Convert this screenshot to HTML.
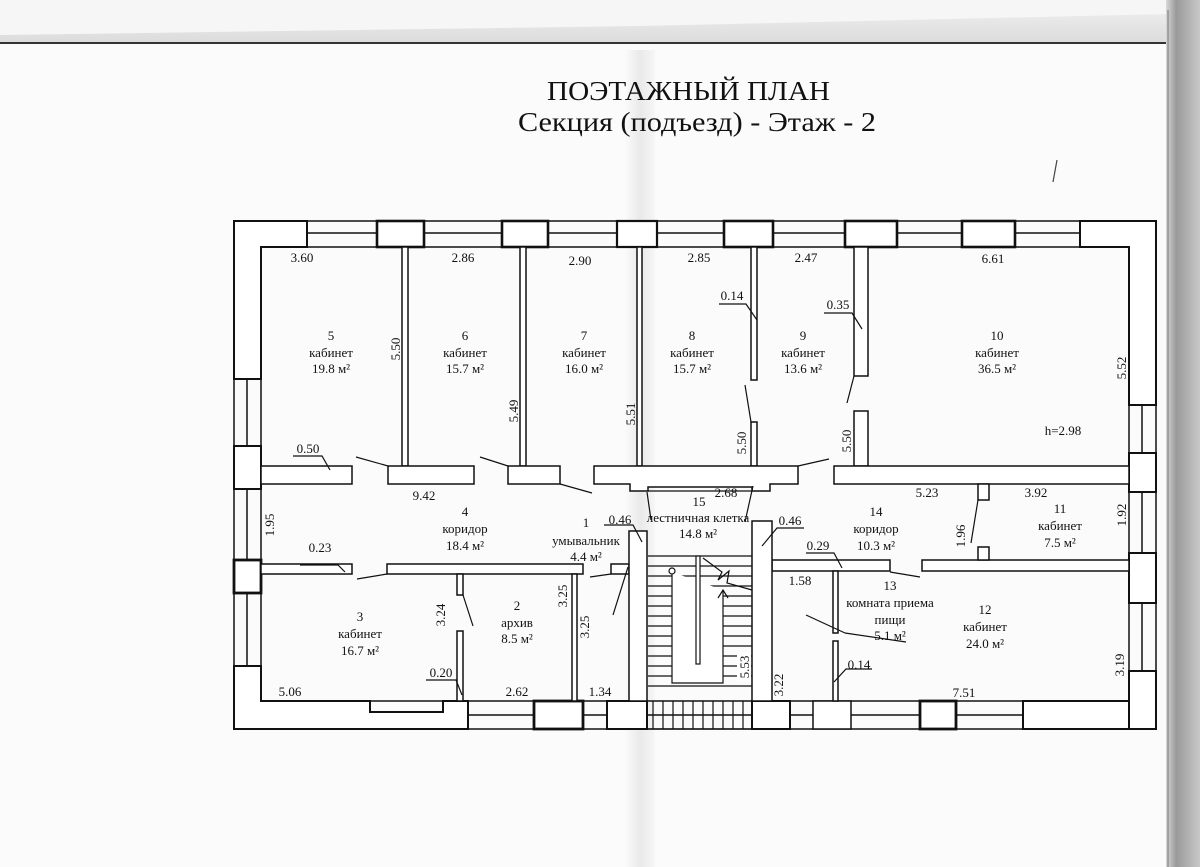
<!DOCTYPE html>
<html><head><meta charset="utf-8"><style>
html,body{margin:0;padding:0;background:#fbfbfb;}
svg{display:block;}
text{font-family:"Liberation Serif",serif;fill:#111;}
</style></head><body>
<svg width="1200" height="867" viewBox="0 0 1200 867" xmlns="http://www.w3.org/2000/svg">
<defs>
<linearGradient id="top" x1="0" y1="0" x2="0" y2="1"><stop offset="0" stop-color="#f2f2f2"/><stop offset="1" stop-color="#dcdcdc"/></linearGradient>
<linearGradient id="rt" x1="0" y1="0" x2="1" y2="0"><stop offset="0" stop-color="#d8d8d8"/><stop offset="0.3" stop-color="#9a9a9a"/><stop offset="1" stop-color="#c8c8c8"/></linearGradient>
<linearGradient id="fold" x1="0" y1="0" x2="1" y2="0"><stop offset="0" stop-color="#fbfbfb"/><stop offset="0.5" stop-color="#e9e9e9"/><stop offset="1" stop-color="#f6f6f6"/></linearGradient>
</defs>
<rect x="0" y="0" width="1200" height="867" fill="#fbfbfb"/>
<rect x="0" y="0" width="1168" height="42" fill="url(#top)"/>
<path d="M0 35 L640 26 L1168 14 L1168 0 L0 0Z" fill="#f6f6f6"/>
<line x1="0" y1="43" x2="1168" y2="43" stroke="#333" stroke-width="2"/>
<rect x="625" y="50" width="30" height="817" fill="url(#fold)"/>
<rect x="1166" y="0" width="34" height="867" fill="url(#rt)"/>
<line x1="1168" y1="10" x2="1168" y2="867" stroke="#777" stroke-width="1"/>

<text x="547" y="100" font-size="27" textLength="283" lengthAdjust="spacingAndGlyphs">ПОЭТАЖНЫЙ ПЛАН</text>
<text x="518" y="131" font-size="27" textLength="358" lengthAdjust="spacingAndGlyphs">Секция (подъезд) -   Этаж - 2</text>
<line x1="1057" y1="160" x2="1053" y2="182" stroke="#444" stroke-width="1.2"/>

<g stroke="#111" fill="none" stroke-width="1.5">
<rect x="234" y="221" width="922" height="508"/>
<rect x="261" y="247" width="868" height="454"/>
<line x1="261" y1="233" x2="1129" y2="233"/>
<line x1="247" y1="247" x2="247" y2="701"/>
<line x1="1142" y1="247" x2="1142" y2="701"/>
<line x1="468" y1="715" x2="1023" y2="715"/>
</g>
<g stroke="#111" fill="#fff" stroke-width="2">
<polygon points="234,221 307,221 307,247 261,247 261,379 234,379"/>
<rect x="377" y="221" width="47" height="26" stroke-width="2.6"/>
<rect x="502" y="221" width="46" height="26" stroke-width="2.6"/>
<rect x="617" y="221" width="40" height="26" stroke-width="2.2"/>
<rect x="724" y="221" width="49" height="26" stroke-width="2.6"/>
<rect x="845" y="221" width="52" height="26" stroke-width="2.6"/>
<rect x="962" y="221" width="53" height="26" stroke-width="2.6"/>
<polygon points="1080,221 1156,221 1156,405 1129,405 1129,247 1080,247"/>
<rect x="234" y="446" width="27" height="43"/>
<rect x="234" y="560" width="27" height="33" stroke-width="2.8"/>
<polygon points="234,666 261,666 261,701 370,701 370,712 443,712 443,701 468,701 468,729 234,729"/>
<rect x="534" y="701" width="49" height="28" stroke-width="2.8"/>
<rect x="607" y="701" width="40" height="28"/>
<rect x="752" y="701" width="38" height="28"/>
<rect x="813" y="701" width="38" height="28" stroke-width="1.5"/>
<rect x="920" y="701" width="36" height="28" stroke-width="2.8"/>
<rect x="1023" y="701" width="133" height="28"/>
<rect x="1129" y="453" width="27" height="39"/>
<rect x="1129" y="553" width="27" height="50"/>
<rect x="1129" y="671" width="27" height="58"/>
</g>
<g stroke="#111" stroke-width="1.2">
<line x1="653" y1="701" x2="653" y2="729"/><line x1="663" y1="701" x2="663" y2="729"/><line x1="673" y1="701" x2="673" y2="729"/><line x1="683" y1="701" x2="683" y2="729"/><line x1="693" y1="701" x2="693" y2="729"/><line x1="703" y1="701" x2="703" y2="729"/><line x1="713" y1="701" x2="713" y2="729"/><line x1="723" y1="701" x2="723" y2="729"/><line x1="733" y1="701" x2="733" y2="729"/><line x1="743" y1="701" x2="743" y2="729"/>
<line x1="647" y1="729" x2="752" y2="729"/>
</g>

<g stroke="#111" fill="#fff" stroke-width="1.5">
<rect x="402" y="247" width="6" height="219"/>
<rect x="520" y="247" width="6" height="219"/>
<rect x="637" y="247" width="5" height="219"/>
<rect x="751" y="247" width="6" height="133"/>
<rect x="751" y="422" width="6" height="44"/>
<rect x="854" y="247" width="14" height="129"/>
<rect x="854" y="411" width="14" height="55"/>
<polygon points="261,466 352,466 352,484 261,484"/>
<rect x="388" y="466" width="86" height="18"/>
<rect x="508" y="466" width="52" height="18"/>
<polygon points="594,466 798,466 798,484 770,484 770,491 752,491 752,487 648,487 648,491 630,491 630,484 594,484"/>
<rect x="834" y="466" width="295" height="18"/>
<rect x="261" y="564" width="91" height="10"/>
<rect x="387" y="564" width="196" height="10"/>
<rect x="611" y="564" width="18" height="10"/>
<rect x="772" y="560" width="118" height="11"/>
<rect x="922" y="560" width="207" height="11"/>
<rect x="978" y="484" width="11" height="16"/>
<rect x="978" y="547" width="11" height="13"/>
<rect x="457" y="574" width="6" height="21"/>
<rect x="457" y="631" width="6" height="70"/>
<rect x="572" y="574" width="5" height="127"/>
<rect x="629" y="531" width="18" height="170"/>
<rect x="752" y="521" width="20" height="180"/>
<rect x="833" y="571" width="5" height="62"/>
<rect x="833" y="641" width="5" height="60"/>
</g>
<g stroke="#111" fill="none" stroke-width="1.2">
<line x1="648" y1="491" x2="752" y2="491"/>
<line x1="648" y1="556" x2="752" y2="556"/><line x1="648" y1="566" x2="752" y2="566"/><line x1="648" y1="576" x2="752" y2="576"/><line x1="648" y1="586" x2="752" y2="586"/><line x1="648" y1="596" x2="752" y2="596"/><line x1="648" y1="606" x2="752" y2="606"/><line x1="648" y1="616" x2="752" y2="616"/><line x1="648" y1="626" x2="752" y2="626"/><line x1="648" y1="636" x2="752" y2="636"/><line x1="648" y1="646" x2="752" y2="646"/><line x1="648" y1="656" x2="752" y2="656"/><line x1="648" y1="666" x2="752" y2="666"/><line x1="648" y1="676" x2="752" y2="676"/><line x1="648" y1="686" x2="752" y2="686"/>
<polyline points="672,572 672,683 723,683 723,590" fill="#fff"/>
<rect x="696" y="556" width="4" height="108" fill="#fff"/>
<circle cx="672" cy="571" r="3" fill="#fff"/>
<polyline points="718,598 723,590 728,598"/>
<polyline points="703,558 722,572 718,580 729,571 727,583 752,590"/>
<line x1="356" y1="457" x2="388" y2="466"/>
<line x1="480" y1="457" x2="508" y2="466"/>
<line x1="560" y1="484" x2="592" y2="493"/>
<line x1="798" y1="466" x2="829" y2="459"/>
<line x1="745" y1="385" x2="751" y2="422"/>
<line x1="854" y1="376" x2="847" y2="403"/>
<line x1="357" y1="579" x2="387" y2="574"/>
<line x1="463" y1="595" x2="473" y2="626"/>
<line x1="590" y1="577" x2="611" y2="574"/>
<line x1="628" y1="567" x2="613" y2="615"/>
<line x1="647" y1="492" x2="651" y2="520"/>
<line x1="753" y1="486" x2="745" y2="522"/>
<line x1="890" y1="572" x2="920" y2="577"/>
<line x1="806" y1="615" x2="845" y2="633"/>
<line x1="845" y1="633" x2="906" y2="642"/>
<polyline points="293,456 322,456 330,470"/>
<polyline points="300,565 338,565 345,572"/>
<polyline points="426,680 456,680 462,695"/>
<polyline points="604,525 633,525 642,542"/>
<polyline points="804,528 777,528 762,546"/>
<polyline points="719,304 746,304 757,320"/>
<polyline points="824,313 852,313 862,329"/>
<polyline points="806,553 834,553 842,568"/>
<polyline points="872,669 846,669 834,682"/>
<line x1="978" y1="500" x2="971" y2="543"/>
</g>
<rect x="737" y="652" width="14" height="30" fill="#fff"/>

<g font-size="13" text-anchor="middle">
<text x="302" y="262">3.60</text>
<text x="463" y="262">2.86</text>
<text x="580" y="265">2.90</text>
<text x="699" y="262">2.85</text>
<text x="806" y="262">2.47</text>
<text x="993" y="263">6.61</text>
<text x="732" y="300">0.14</text>
<text x="838" y="309">0.35</text>
<text x="308" y="453">0.50</text>
<text x="424" y="500">9.42</text>
<text x="320" y="552">0.23</text>
<text x="441" y="677">0.20</text>
<text x="290" y="696">5.06</text>
<text x="517" y="696">2.62</text>
<text x="600" y="696">1.34</text>
<text x="620" y="524">0.46</text>
<text x="726" y="497">2.68</text>
<text x="790" y="525">0.46</text>
<text x="818" y="550">0.29</text>
<text x="800" y="585">1.58</text>
<text x="927" y="497">5.23</text>
<text x="1036" y="497">3.92</text>
<text x="859" y="669">0.14</text>
<text x="964" y="697">7.51</text>
<text x="1063" y="435">h=2.98</text>
<text transform="translate(400,349) rotate(-90)">5.50</text>
<text transform="translate(518,411) rotate(-90)">5.49</text>
<text transform="translate(635,414) rotate(-90)">5.51</text>
<text transform="translate(746,443) rotate(-90)">5.50</text>
<text transform="translate(851,441) rotate(-90)">5.50</text>
<text transform="translate(1126,368) rotate(-90)">5.52</text>
<text transform="translate(274,525) rotate(-90)">1.95</text>
<text transform="translate(445,615) rotate(-90)">3.24</text>
<text transform="translate(567,596) rotate(-90)">3.25</text>
<text transform="translate(589,627) rotate(-90)">3.25</text>
<text transform="translate(749,667) rotate(-90)">5.53</text>
<text transform="translate(783,685) rotate(-90)">3.22</text>
<text transform="translate(965,536) rotate(-90)">1.96</text>
<text transform="translate(1126,515) rotate(-90)">1.92</text>
<text transform="translate(1124,665) rotate(-90)">3.19</text>
<text x="331" y="340">5</text><text x="331" y="357">кабинет</text><text x="331" y="373">19.8 м²</text>
<text x="465" y="340">6</text><text x="465" y="357">кабинет</text><text x="465" y="373">15.7 м²</text>
<text x="584" y="340">7</text><text x="584" y="357">кабинет</text><text x="584" y="373">16.0 м²</text>
<text x="692" y="340">8</text><text x="692" y="357">кабинет</text><text x="692" y="373">15.7 м²</text>
<text x="803" y="340">9</text><text x="803" y="357">кабинет</text><text x="803" y="373">13.6 м²</text>
<text x="997" y="340">10</text><text x="997" y="357">кабинет</text><text x="997" y="373">36.5 м²</text>
<text x="465" y="516">4</text><text x="465" y="533">коридор</text><text x="465" y="550">18.4 м²</text>
<text x="586" y="527">1</text><text x="586" y="545">умывальник</text><text x="586" y="561">4.4 м²</text>
<text x="699" y="506">15</text><text x="698" y="522">лестничная клетка</text><text x="698" y="538">14.8 м²</text>
<text x="876" y="516">14</text><text x="876" y="533">коридор</text><text x="876" y="550">10.3 м²</text>
<text x="1060" y="513">11</text><text x="1060" y="530">кабинет</text><text x="1060" y="547">7.5 м²</text>
<text x="360" y="621">3</text><text x="360" y="638">кабинет</text><text x="360" y="655">16.7 м²</text>
<text x="517" y="610">2</text><text x="517" y="627">архив</text><text x="517" y="643">8.5 м²</text>
<text x="890" y="590">13</text><text x="890" y="607">комната приема</text><text x="890" y="624">пищи</text><text x="890" y="640">5.1 м²</text>
<text x="985" y="614">12</text><text x="985" y="631">кабинет</text><text x="985" y="648">24.0 м²</text>
</g>
</svg>
</body></html>
